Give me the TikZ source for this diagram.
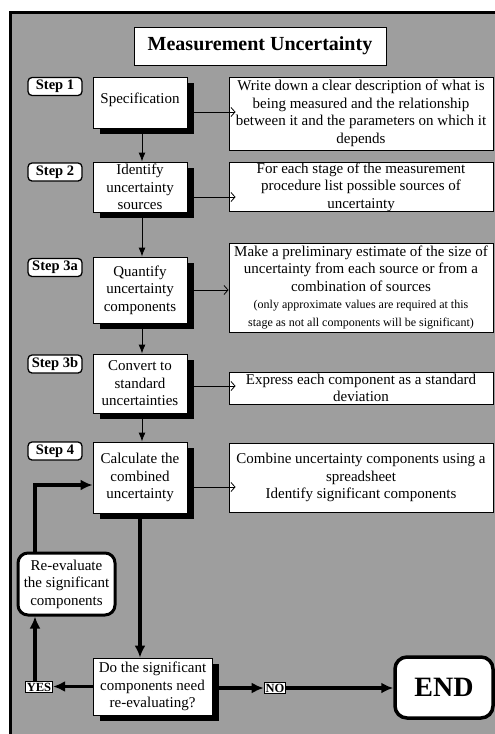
\documentclass[tikz,border=0pt]{standalone}
\usepackage{fontspec}
\setmainfont{Liberation Serif}
\usetikzlibrary{shadows,arrows.meta}

\definecolor{bggrey}{RGB}{158,158,158}
\newcommand\notesize{\fontsize{12}{15}\selectfont}

\tikzset{
  box/.style={draw=black, line width=0.9pt, fill=white, inner sep=0pt, align=center,
    font=\fontsize{15}{17.5}\selectfont},
  colbox/.style={box, minimum width=94pt,
    drop shadow={shadow xshift=7pt, shadow yshift=-6pt, fill=black, opacity=1}},
  descbox/.style={box, minimum width=264pt},
  steplabel/.style={draw=black, line width=1.3pt, fill=white, rounded corners=4pt,
    minimum width=54pt, minimum height=18pt, inner sep=0pt,
    font=\fontsize{14.5}{16}\selectfont\bfseries},
  tag/.style={draw=black, line width=0.9pt, fill=white, inner sep=1.5pt,
    font=\fontsize{12.5}{14}\selectfont\bfseries},
  roundbox/.style={draw=black, fill=white, align=center, inner sep=0pt},
  thinarrow/.style={line width=0.9pt, -{Latex[length=9pt,width=7pt]}},
  sidearrow/.style={line width=0.8pt, -{Straight Barb[length=4pt,width=9pt]}},
  thickarrow/.style={line width=3.5pt, -{Latex[length=12pt,width=11pt]}},
}

\begin{document}
\begin{tikzpicture}[x=1pt, y=-1pt]
  \useasboundingbox (0,0) rectangle (495,734);

  % panel background and frame
  \fill[bggrey] (10,12) rectangle (495,734);
  \draw[line width=3pt] (10,734) -- (10,12) -- (495,12);

  % title
  \node[box, minimum width=252pt, minimum height=38pt,
        font=\fontsize{20}{24}\selectfont\bfseries] (title) at (260,46) {Measurement Uncertainty};

  % step labels
  \node[steplabel] (s1)  at (55,86.5) {Step 1};
  \node[steplabel] (s2)  at (55,172)  {Step 2};
  \node[steplabel] (s3a) at (55,267.5) {Step 3a};
  \node[steplabel] (s3b) at (55,364)  {Step 3b};
  \node[steplabel] (s4)  at (55,451)  {Step 4};

  % main column
  \node[colbox, minimum height=51pt] (spec)  at (140,102.5) {Specification\\[-9pt]\mbox{}};
  \node[colbox, minimum height=50pt] (ident) at (140,187)   {Identify\\uncertainty\\sources};
  \node[colbox, minimum height=66pt] (quant) at (140,290)   {Quantify\\uncertainty\\components};
  \node[colbox, minimum height=59pt] (conv)  at (140,383.5) {Convert to\\standard\\uncertainties};
  \node[colbox, minimum height=71pt] (calc)  at (140,477.5) {Calculate the\\combined\\uncertainty};

  % descriptions
  \node[descbox, minimum height=73pt] (d1) at (361,113.5)
    {Write down a clear description of what is\\being measured and the relationship\\between it and the parameters on which it\\depends};
  \node[descbox, minimum height=48pt] (d2) at (361,187)
    {For each stage of the measurement\\procedure list possible sources of\\uncertainty};
  \node[descbox, minimum height=89pt] (d3) at (361,287.5)
    {Make a preliminary estimate of the size of\\uncertainty from each source or from a\\combination of sources\\
     \notesize (only approximate values are required at this\\
     \notesize stage as not all components will be significant)};
  \node[descbox, minimum height=32pt] (d3b) at (361,388)
    {Express each component as a standard\\deviation};
  \node[descbox, minimum height=69pt] (d4) at (361,477.5)
    {Combine uncertainty components using a\\spreadsheet\\Identify significant components};

  % loop and decision
  \node[roundbox, line width=3pt, rounded corners=10pt, minimum width=97pt, minimum height=62pt,
        font=\fontsize{15}{17.5}\selectfont] (reeval) at (66.5,584)
    {Re-evaluate\\the significant\\components};
  \node[colbox, minimum width=119pt, minimum height=57pt] (dec) at (152.5,686.5)
    {Do the significant\\components need\\re-evaluating?};
  \node[tag] (yes) at (39,687) {YES};
  \node[tag] (no)  at (275,688) {NO};
  \node[roundbox, line width=3.5pt, rounded corners=12pt, minimum width=98pt, minimum height=61pt,
        font=\fontsize{28}{30}\selectfont\bfseries] (end) at (444,687.5) {END};

  \coordinate (loopx) at (35,0);

  % column flow
  \draw[thinarrow] ([xshift=2pt,yshift=-6pt]spec.south)  -- ([xshift=2pt]ident.north);
  \draw[thinarrow] ([xshift=2pt,yshift=-6pt]ident.south) -- ([xshift=2pt]quant.north);
  \draw[thinarrow] ([xshift=2pt,yshift=-6pt]quant.south) -- ([xshift=2pt]conv.north);
  \draw[thinarrow] ([xshift=2pt,yshift=-6pt]conv.south)  -- ([xshift=2pt]calc.north);

  % links to descriptions
  \draw[sidearrow] ([xshift=7pt,yshift=-9.5pt]spec.east)  -- ([xshift=7pt,yshift=-9.5pt]spec.east -| d1.west);
  \draw[sidearrow] ([xshift=7pt,yshift=-10pt]ident.east)  -- ([xshift=7pt,yshift=-10pt]ident.east -| d2.west);
  \draw[sidearrow] ([xshift=7pt]quant.east)               -- (quant.east -| d3.west);
  \draw[sidearrow] ([xshift=7pt,yshift=-2.5pt]conv.east)  -- ([xshift=7pt,yshift=-2.5pt]conv.east -| d3b.west);
  \draw[sidearrow] ([xshift=7pt,yshift=-9.5pt]calc.east)  -- ([xshift=7pt,yshift=-9.5pt]calc.east -| d4.west);

  % decision loop
  \draw[thickarrow] ([yshift=-6pt]calc.south) -- (calc.south |- dec.north);
  \draw[thickarrow] (dec.west) -- (dec.west -| yes.east);
  \draw[thickarrow] (yes.north -| loopx) -- (reeval.south -| loopx);
  \draw[thickarrow] (reeval.north -| loopx) |- ([yshift=-7.5pt]calc.west);
  \draw[thickarrow] ([xshift=7pt]dec.east |- no.west) -- (no.west);
  \draw[thickarrow] (no.east) -- (no.east -| end.west);
\end{tikzpicture}
\end{document}
